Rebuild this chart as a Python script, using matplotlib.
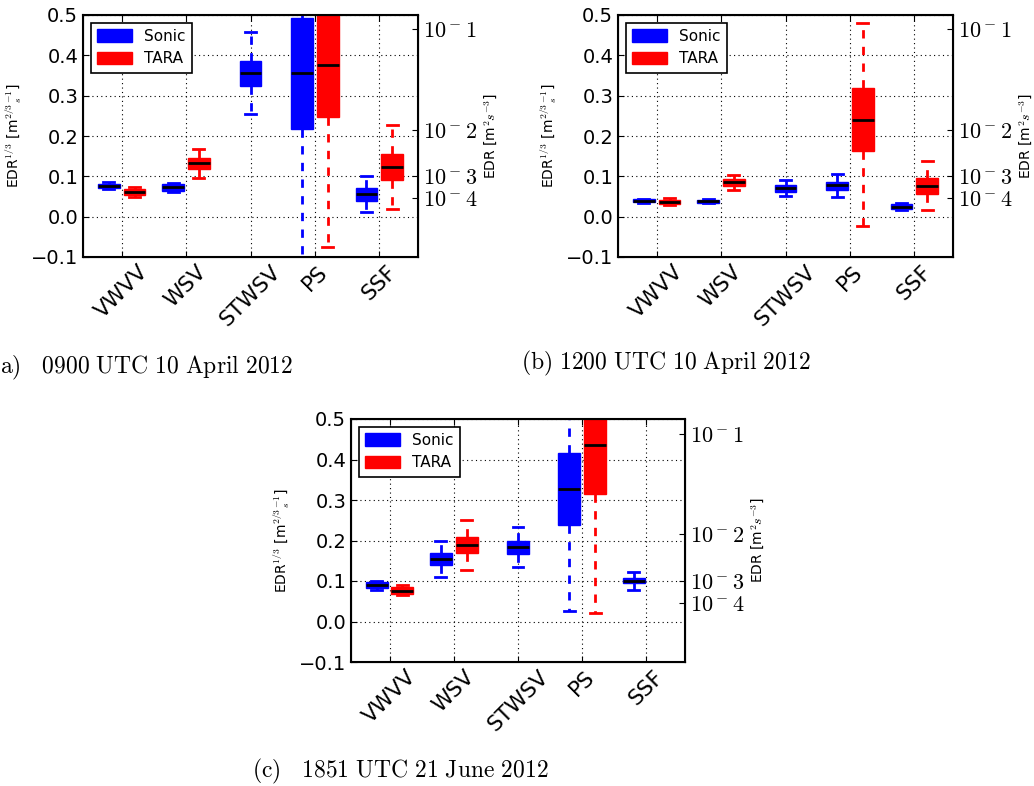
import matplotlib
matplotlib.use("Agg")
from matplotlib import pyplot as plt
import matplotlib.patches as mpatches
import numpy as np

plt.rcParams['mathtext.fontset'] = 'cm'

categories = ['VWVV', 'WSV', 'STWSV', 'PS', 'SSF']

# each entry: (whislo, q1, median, q3, whishi), None where no data
a_sonic = [(0.069, 0.072, 0.077, 0.082, 0.085),
           (0.061, 0.064, 0.0725, 0.080, 0.084),
           (0.254, 0.324, 0.357, 0.387, 0.459),
           (-0.15, 0.217, 0.355, 0.493, 0.56),
           (0.011, 0.040, 0.056, 0.071, 0.101)]
a_tara = [(0.049, 0.054, 0.060, 0.0675, 0.0725),
          (0.097, 0.119, 0.132, 0.145, 0.169),
          None,
          (-0.074, 0.246, 0.376, 0.56, 0.70),
          (0.018, 0.090, 0.1225, 0.155, 0.227)]

b_sonic = [(0.035, 0.036, 0.0396, 0.043, 0.044),
           (0.034, 0.035, 0.039, 0.042, 0.044),
           (0.050, 0.062, 0.071, 0.079, 0.090),
           (0.049, 0.067, 0.078, 0.087, 0.107),
           (0.017, 0.019, 0.025, 0.031, 0.034)]
b_tara = [(0.029, 0.032, 0.037, 0.042, 0.0455),
          (0.066, 0.076, 0.085, 0.093, 0.104),
          None,
          (-0.024, 0.163, 0.240, 0.318, 0.480),
          (0.016, 0.057, 0.077, 0.095, 0.137)]

c_sonic = [(0.078, 0.0825, 0.089, 0.0965, 0.1005),
           (0.111, 0.140, 0.155, 0.170, 0.199),
           (0.134, 0.167, 0.185, 0.200, 0.234),
           (0.026, 0.238, 0.327, 0.416, 0.56),
           (0.079, 0.094, 0.101, 0.108, 0.122)]
c_tara = [(0.066, 0.069, 0.0757, 0.084, 0.090),
          (0.126, 0.168, 0.190, 0.209, 0.251),
          None,
          (0.020, 0.315, 0.436, 0.53, 0.66),
          None]

edr_exponents = [1, 2, 3, 4]

captions = [r'$\mathrm{(a)\quad 0900\ UTC\ 10\ April\ 2012}$',
            r'$\mathrm{(b)\ 1200\ UTC\ 10\ April\ 2012}$',
            r'$\mathrm{(c)\quad 1851\ UTC\ 21\ June\ 2012}$']

# horizontal shift of the boxes from the category tick
sonic_shift = [-0.2, -0.2, 0.0, -0.2, -0.2]
tara_shift = [0.2, 0.2, 0.0, 0.2, 0.2]
box_w = 0.34

W, H = 1034, 786
fig = plt.figure(figsize=(W / 100, H / 100), dpi=100)


def px_axes(l, t, r, b):
    return fig.add_axes([l / W, 1 - b / H, (r - l) / W, (b - t) / H])


def draw_boxes(ax, data, shift, color):
    stats, pos = [], []
    for i, d in enumerate(data):
        if d is None:
            continue
        lo, q1, med, q3, hi = d
        stats.append(dict(whislo=lo, q1=q1, med=med, q3=q3, whishi=hi))
        pos.append(i + 1 + shift[i])
    ax.bxp(stats, positions=pos, widths=box_w, patch_artist=True,
           showfliers=False, manage_ticks=False,
           boxprops=dict(facecolor=color, edgecolor=color, linewidth=1),
           whiskerprops=dict(color=color, linewidth=2, linestyle=(0, (3, 3))),
           capprops=dict(color=color, linewidth=2),
           medianprops=dict(color='k', linewidth=2))


def panel(rect, sonic, tara, caption, cap_xy):
    ax = px_axes(*rect)
    ax.set_axisbelow(True)
    draw_boxes(ax, sonic, sonic_shift, 'blue')
    draw_boxes(ax, tara, tara_shift, 'red')
    ax.set_xlim(0.4, 5.6)
    ax.set_ylim(-0.1, 0.5)
    ax.set_yticks(np.arange(-0.1, 0.51, 0.1))
    ax.set_xticks(np.arange(1, len(categories) + 1))
    ax.set_xticklabels(categories, rotation=45, fontsize=15.5)
    ax.tick_params(axis='y', labelsize=14)
    ax.tick_params(direction='in', length=4, top=True, right=True)
    ax.grid(True, color='k', linestyle=(0, (1, 3)), linewidth=0.8)
    for s in ax.spines.values():
        s.set_linewidth(1.5)
    ax.set_ylabel(r'EDR$^{1/3}$ [m$^{2/3}{}_s^{-1}$]', fontsize=10, labelpad=5)

    handles = [mpatches.Patch(facecolor='blue', edgecolor='blue', label='Sonic'),
               mpatches.Patch(facecolor='red', edgecolor='red', label='TARA')]
    leg = ax.legend(handles=handles, loc='upper left', fontsize=11,
                    fancybox=False, framealpha=1, edgecolor='k',
                    handlelength=2.3, handleheight=0.9, borderaxespad=0.5,
                    labelspacing=0.5, handletextpad=0.8)
    leg.get_frame().set_linewidth(1.2)

    ax2 = ax.twinx()
    ax2.set_ylim(ax.get_ylim())
    ax2.set_yticks([(10.0 ** -k) ** (1 / 3) for k in edr_exponents])
    ax2.set_yticklabels([r'$10^-%d$' % k for k in edr_exponents], fontsize=16)
    ax2.tick_params(direction='in', length=4)
    ax2.set_ylabel(r'EDR [m$^2s^{-3}$]', fontsize=10, labelpad=3)

    fig.text(cap_xy[0] / W, 1 - cap_xy[1] / H, caption, fontsize=17,
             ha='left', va='center')


panel((83, 15, 418, 257), a_sonic, a_tara, captions[0], (-9, 367))
panel((618, 15, 953, 257), b_sonic, b_tara, captions[1], (521, 363))
panel((351, 419, 685, 662), c_sonic, c_tara, captions[2], (252, 771))

fig.savefig('out.png', dpi=100)
